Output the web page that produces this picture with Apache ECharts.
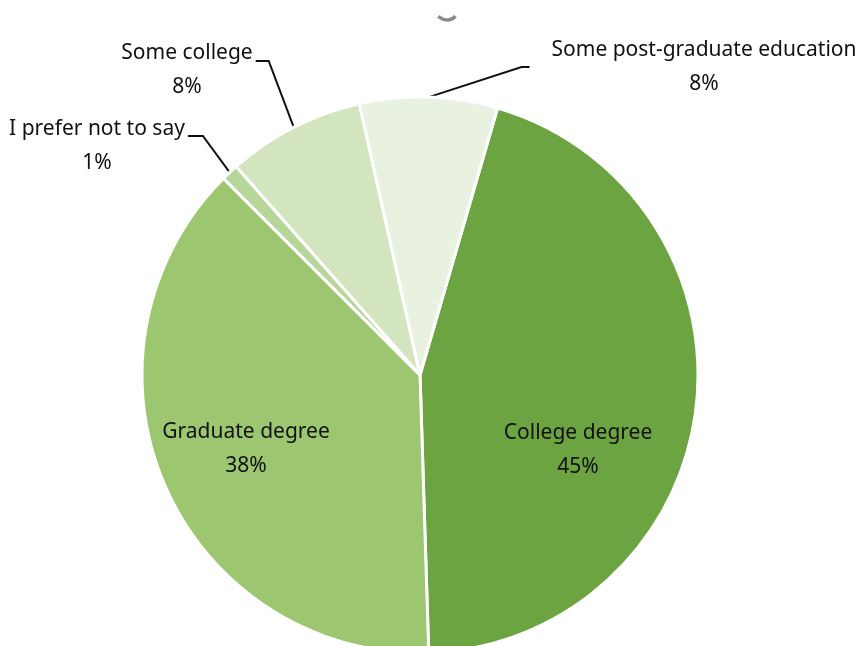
<!DOCTYPE html>
<html>
<head>
<meta charset="utf-8">
<title>Education level</title>
<script src="https://cdn.jsdelivr.net/npm/echarts@6/dist/echarts.min.js"></script>
<style>
  html, body { margin: 0; padding: 0; background: #ffffff; }
  #chart { width: 863px; height: 646px; }
</style>
</head>
<body>
<div id="chart"></div>
<script>
// Education categories, clockwise from the College degree slice
const categories = [
  'College degree',
  'Graduate degree',
  'I prefer not to say',
  'Some college',
  'Some post-graduate education'
];
// Share of respondents, percent
const shares = [45, 38, 1, 8, 8];

const sliceColors = ['#6ca442', '#9cc66f', '#b6d69a', '#d3e5bf', '#e9f1e0'];

// Where each label block is centred; outside labels carry a leader line
const labelSpots = [
  { x: 578, y: 450, outside: false },
  { x: 246, y: 449, outside: false },
  { x: 97, y: 146, outside: true, side: 'right', dy: 24, arm: 15 },
  { x: 187, y: 70, outside: true, side: 'right', dy: 25, arm: 13 },
  { x: 704, y: 67, outside: true, side: 'left', dy: 34, arm: 8 }
];

const chart = echarts.init(document.getElementById('chart'), null, { renderer: 'canvas' });

const seriesData = categories.map((name, i) => ({
  name: name,
  value: shares[i],
  itemStyle: { color: sliceColors[i] },
  label: { position: labelSpots[i].outside ? 'outside' : 'inside' },
  labelLine: { show: labelSpots[i].outside }
}));

chart.setOption({
  backgroundColor: '#ffffff',
  animation: false,
  graphic: [{
    type: 'arc',
    shape: { cx: 447, cy: 9, r: 11, startAngle: Math.PI * 0.22, endAngle: Math.PI * 0.78 },
    style: { stroke: '#8a8a8a', lineWidth: 3.5, fill: null }
  }],
  series: [{
    type: 'pie',
    center: [420, 375],
    radius: 278,
    startAngle: 73.8,
    clockwise: true,
    avoidLabelOverlap: false,
    percentPrecision: 0,
    itemStyle: { borderColor: '#ffffff', borderWidth: 3 },
    label: {
      show: true,
      formatter: '{b}\n{d}%',
      fontFamily: 'Noto Sans',
      fontSize: 21,
      lineHeight: 34,
      color: '#111111',
      align: 'center'
    },
    labelLine: {
      length: 20,
      length2: 15,
      lineStyle: { color: '#111111', width: 2 }
    },
    labelLayout: function (params) {
      const spot = labelSpots[params.dataIndex];
      const out = { x: spot.x, y: spot.y, align: 'center', verticalAlign: 'middle' };
      if (spot.outside && params.labelLinePoints) {
        const w = params.labelRect.width;
        const h = params.labelRect.height;
        const lineY = spot.y - h / 2 + spot.dy;
        const edge = spot.side === 'right' ? spot.x + w / 2 + 3 : spot.x - w / 2 - 22;
        const elbow = spot.side === 'right' ? edge + spot.arm : edge - spot.arm;
        out.labelLinePoints = [
          params.labelLinePoints[0],
          [elbow, lineY],
          [edge, lineY]
        ];
      }
      return out;
    },
    data: seriesData
  }]
});
</script>
</body>
</html>
